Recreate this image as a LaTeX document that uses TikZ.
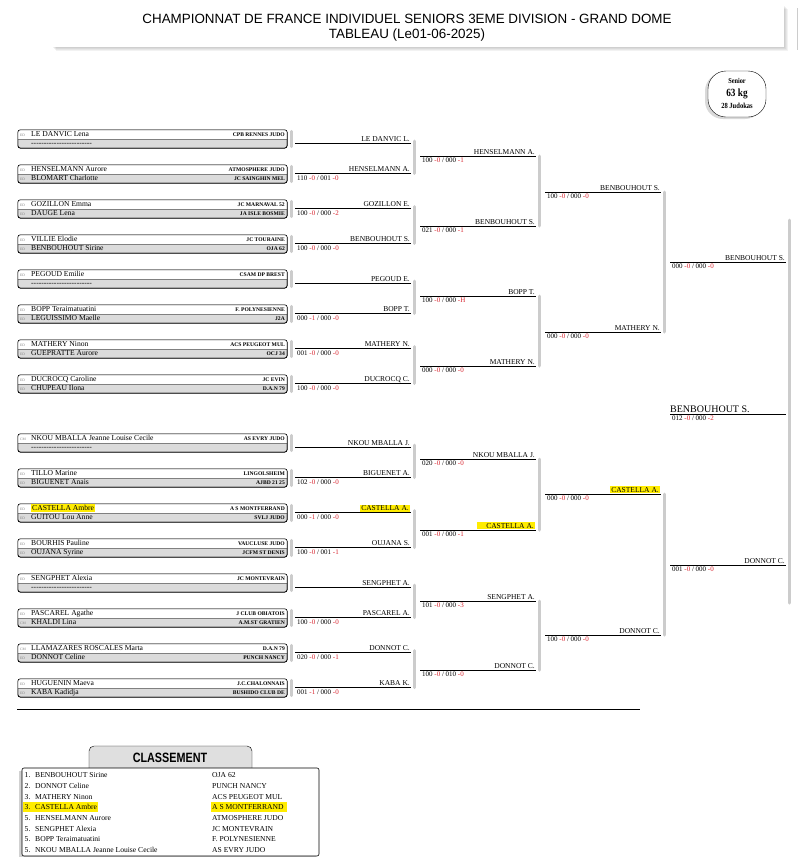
\documentclass[tikz,border=0pt]{standalone}
\usepackage{fontspec}
\setmainfont{Liberation Serif}
\newfontfamily\headfont{Liberation Sans}
\usetikzlibrary{calc}
\definecolor{rowgray}{gray}{0.86}
\definecolor{bargray}{gray}{0.80}
\definecolor{hlyellow}{RGB}{255,236,0}
\definecolor{scorered}{RGB}{215,35,45}
\tikzstyle{entry}=[draw, rounded corners=2.5pt, fill=rowgray, minimum width=269pt, minimum height=18pt, inner sep=0pt]
\tikzstyle{player}=[anchor=base west, inner sep=0pt, font=\fontsize{7.6}{8}\selectfont]
\tikzstyle{club}=[anchor=base east, inner sep=0pt, font=\fontsize{5.6}{6}\selectfont\bfseries]
\tikzstyle{tag}=[anchor=base west, inner sep=0pt, text=gray, font=\fontsize{3.6}{4}\selectfont]
\tikzstyle{winner}=[anchor=base east, inner sep=0pt, font=\fontsize{7.5}{8}\selectfont]
\tikzstyle{score}=[anchor=base west, inner sep=0pt, font=\fontsize{7}{8}\selectfont]
\tikzstyle{bar}=[bargray, line width=3pt, line cap=round]
\tikzstyle{result}=[line width=0.9pt]
\tikzstyle{head}=[inner sep=0pt, font=\fontsize{13.4}{15}\headfont]
\tikzstyle{badge}=[inner sep=0pt]
\tikzstyle{rank}=[anchor=base west, inner sep=0pt, font=\fontsize{7.6}{8}\selectfont]
\newcommand{\pts}[4]{#1 \textcolor{scorered}{-#2} / #3 \textcolor{scorered}{-#4}}
\newcommand{\hlmark}[1]{{\setlength{\fboxsep}{1pt}\colorbox{hlyellow}{#1}}}
\newcommand{\nobody}{\foreach\k in {1,...,24}{-\kern0pt}}
\newcommand{\narrow}[2]{\scalebox{0.84}[1]{\fontsize{#1}{#1}\selectfont\bfseries #2}}

\begin{document}
\begin{tikzpicture}[x=1pt,y=-1pt]
\useasboundingbox (0,0) rectangle (800,857);

% header
\foreach \s in {1,...,4}
  \fill[black,opacity=0.05] (52+\s,5+\s) rectangle (784+\s,47+\s);
\fill[white] (52,5) rectangle (784,47);
\draw[gray!40] (797,8) -- (797,50);
\node[head] (title) at (407,19) {CHAMPIONNAT DE FRANCE INDIVIDUEL SENIORS 3EME DIVISION - GRAND DOME};
\node[head] (date) at (407,35) {TABLEAU (Le01-06-2025)};

% category
\fill[black,opacity=0.15,rounded corners=18pt] (705,73) rectangle (763,119);
\draw[fill=white,rounded corners=18pt] (708,71) rectangle (766,117);
\node[badge] (cat) at (737,81) {\narrow{7.5}{Senior}};
\node[badge] (weight) at (737,93.5) {\narrow{11}{63 kg}};
\node[badge] (count) at (737,106) {\narrow{7.8}{28 Judokas}};

% draw list
\foreach \i/\T/\ta/\na/\ca/\tb/\nb/\cb in {
  1/133/ED/LE DANVIC Lena/CPB RENNES JUDO/{}/\nobody/{},
  2/168/ED/HENSELMANN Aurore/ATMOSPHERE JUDO/ED/BLOMART Charlotte/JC SAINGHIN MEL,
  3/203/ED/GOZILLON Emma/JC MARNAVAL 52/ED/DAUGE Lena/JA ISLE BOSMIE,
  4/238/ED/VILLIE Elodie/JC TOURAINE/ED/BENBOUHOUT Sirine/OJA 62,
  5/273/ED/PEGOUD Emilie/CSAM DP BREST/{}/\nobody/{},
  6/308/ED/BOPP Teraimatuatini/F. POLYNESIENNE/ED/LEGUISSIMO Maelle/J2A,
  7/343/ED/MATHERY Ninon/ACS PEUGEOT MUL/ED/GUEPRATTE Aurore/OCJ 34,
  8/378/ED/DUCROCQ Caroline/JC EVIN/ED/CHUPEAU Ilona/D.A.N 79,
  9/437/CM/NKOU MBALLA Jeanne Louise Cecile/AS EVRY JUDO/{}/\nobody/{},
  10/472/ED/TILLO Marine/LINGOLSHEIM/ED/BIGUENET Anais/AJBD 21 25,
  11/507/ED/\hlmark{CASTELLA Ambre}/A S MONTFERRAND/ED/GUITOU Lou Anne/SVLJ JUDO,
  12/542/ED/BOURHIS Pauline/VAUCLUSE JUDO/ED/OUJANA Syrine/JCFM ST DENIS,
  13/577/ED/SENGPHET Alexia/JC MONTEVRAIN/{}/\nobody/{},
  14/612/ED/PASCAREL Agathe/J CLUB OBIATOIS/CM/KHALDI Lina/A.M.ST GRATIEN,
  15/647/CM/LLAMAZARES ROSCALES Marta/D.A.N 79/ED/DONNOT Celine/PUNCH NANCY,
  16/682/ED/HUGUENIN Maeva/J.C.CHALONNAIS/ED/KABA Kadidja/BUSHIDO CLUB DE}{
  \node[entry] (e\i) at (152.5,\T+6) {};
  \fill[white,rounded corners=2.5pt] (e\i.west) |- (e\i.north east) -- (e\i.east);
  \draw[gray,line width=0.5pt] (e\i.west) -- (e\i.east);
  \draw[line width=0.6pt,rounded corners=2.5pt] (e\i.south west) rectangle (e\i.north east);
  \draw[bar] ([xshift=4pt,yshift=-1.5pt]e\i.north east) -- ([xshift=4pt,yshift=1.5pt]e\i.south east);
  \node[tag] at (20,\T+3) {\ta};
  \node[tag] at (20,\T+12) {\tb};
  \node[player] at (31,\T+3.5) {\na};
  \node[player] at (31,\T+12.5) {\nb};
  \node[club] at (285,\T+3.2) {\ca};
  \node[club] at (285,\T+12.2) {\cb};
}

% round 1
\foreach \j/\y/\w/\s in {
  1/143/LE DANVIC L./{},
  2/173.5/HENSELMANN A./\pts{110}{0}{001}{0},
  3/208.5/GOZILLON E./\pts{100}{0}{000}{2},
  4/243.5/BENBOUHOUT S./\pts{100}{0}{000}{0},
  5/283/PEGOUD E./{},
  6/313.5/BOPP T./\pts{000}{1}{000}{0},
  7/348.5/MATHERY N./\pts{001}{0}{000}{0},
  8/383.5/DUCROCQ C./\pts{100}{0}{000}{0},
  9/447/NKOU MBALLA J./{},
  10/477.5/BIGUENET A./\pts{102}{0}{000}{0},
  11/512.5/\hlmark{CASTELLA A.}/\pts{000}{1}{000}{0},
  12/547.5/OUJANA S./\pts{100}{0}{001}{1},
  13/587/SENGPHET A./{},
  14/617.5/PASCAREL A./\pts{100}{0}{000}{0},
  15/652.5/DONNOT C./\pts{020}{0}{000}{1},
  16/687.5/KABA K./\pts{001}{1}{000}{0}}{
  \coordinate (a\j) at (295,\y);
  \draw[result] (a\j) -- ++(116,0) coordinate (ae\j);
  \node[winner] (aw\j) at ([xshift=-1pt,yshift=2pt]ae\j) {\w};
  \node[score] (as\j) at ([xshift=2pt,yshift=-6.5pt]a\j) {\s};
}
\foreach \p/\q in {1/2,3/4,5/6,7/8,9/10,11/12,13/14,15/16}
  \draw[bar] ([xshift=3pt,yshift=2pt]ae\p) -- ([xshift=3pt]ae\q);

% round 2
\foreach \j/\y/\w/\s in {
  1/156/HENSELMANN A./\pts{100}{0}{000}{1},
  2/226/BENBOUHOUT S./\pts{021}{0}{000}{1},
  3/296/BOPP T./\pts{100}{0}{000}{H},
  4/366/MATHERY N./\pts{000}{0}{000}{0},
  5/459/NKOU MBALLA J./\pts{020}{0}{000}{0},
  6/530/\hlmark{\hspace{8pt}CASTELLA A.}/\pts{001}{0}{000}{1},
  7/601/SENGPHET A./\pts{101}{0}{000}{3},
  8/670/DONNOT C./\pts{100}{0}{010}{0}}{
  \coordinate (b\j) at (420,\y);
  \draw[result] (b\j) -- ++(116,0) coordinate (be\j);
  \node[winner] (bw\j) at ([xshift=-1pt,yshift=2pt]be\j) {\w};
  \node[score] (bs\j) at ([xshift=2pt,yshift=-6.5pt]b\j) {\s};
}
\foreach \p/\q in {1/2,3/4,5/6,7/8}
  \draw[bar] ([xshift=3pt]be\p) -- ([xshift=3pt]be\q);

% round 3
\foreach \j/\y/\w/\s in {
  1/192/BENBOUHOUT S./\pts{100}{0}{000}{0},
  2/332/MATHERY N./\pts{000}{0}{000}{0},
  3/494/\hlmark{CASTELLA A.}/\pts{000}{0}{000}{0},
  4/635/DONNOT C./\pts{100}{0}{000}{0}}{
  \coordinate (c\j) at (545,\y);
  \draw[result] (c\j) -- ++(116,0) coordinate (ce\j);
  \node[winner] (cw\j) at ([xshift=-1pt,yshift=2pt]ce\j) {\w};
  \node[score] (cs\j) at ([xshift=2pt,yshift=-6.5pt]c\j) {\s};
}
\foreach \p/\q in {1/2,3/4}
  \draw[bar] ([xshift=3pt]ce\p) -- ([xshift=3pt]ce\q);

% round 4
\foreach \j/\y/\w/\s in {
  1/262/BENBOUHOUT S./\pts{000}{0}{000}{0},
  2/565/DONNOT C./\pts{001}{0}{000}{0}}{
  \coordinate (d\j) at (670,\y);
  \draw[result] (d\j) -- ++(116,0) coordinate (de\j);
  \node[winner] (dw\j) at ([xshift=-1pt,yshift=2pt]de\j) {\w};
  \node[score] (ds\j) at ([xshift=2pt,yshift=-6.5pt]d\j) {\s};
}
\draw[bar] ([xshift=3pt,yshift=42pt]de1) -- ([xshift=3pt,yshift=-38pt]de2);

% final
\coordinate (champ) at (670,414);
\draw[result] (champ) -- ++(116,0) coordinate (champe);
\node[anchor=base west,inner sep=0pt,font=\fontsize{10}{11}\selectfont] (champw) at ([yshift=2pt]champ) {BENBOUHOUT S.};
\node[score] (champs) at ([xshift=2pt,yshift=-6.5pt]champ) {\pts{012}{0}{000}{2}};

\draw[line width=0.9pt] (17,709) -- (640,709);

% ranking
\draw[fill=gray!25,rounded corners=5pt] (89,769) -- (89,746) -- (252,746) -- (252,769);
\node[inner sep=0pt] (ranktitle) at (170,758) {\scalebox{0.8}[1]{\fontsize{13.5}{14}\headfont\bfseries CLASSEMENT}};
\fill[black,opacity=0.18] (19,771) rectangle (316,859);
\draw[fill=white,rounded corners=2pt,line width=0.6pt] (22,768) rectangle (319,856);
\fill[hlyellow] (23,802) rectangle (98,812);
\fill[hlyellow] (211,802) rectangle (287,812);
\foreach \k/\r/\n/\c in {
  1/1./BENBOUHOUT Sirine/OJA 62,
  2/2./DONNOT Celine/PUNCH NANCY,
  3/3./MATHERY Ninon/ACS PEUGEOT MUL,
  4/3./CASTELLA Ambre/A S MONTFERRAND,
  5/5./HENSELMANN Aurore/ATMOSPHERE JUDO,
  6/5./SENGPHET Alexia/JC MONTEVRAIN,
  7/5./BOPP Teraimatuatini/F. POLYNESIENNE,
  8/5./NKOU MBALLA Jeanne Louise Cecile/AS EVRY JUDO}{
  \node[rank] (rn\k) at (24.5,775+10.7*\k-10.7+2.6) {\r};
  \node[rank] (rp\k) at (35,775+10.7*\k-10.7+2.6) {\n};
  \node[rank] (rc\k) at (212,775+10.7*\k-10.7+2.6) {\c};
}
\end{tikzpicture}
\end{document}
